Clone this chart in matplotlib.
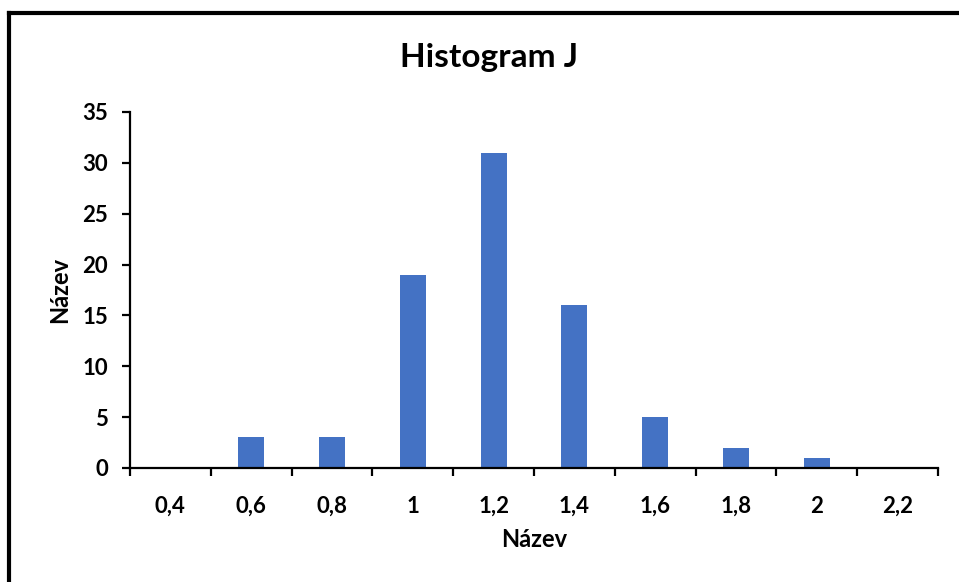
import numpy as np
import matplotlib
matplotlib.use("Agg")
import matplotlib.pyplot as plt
from matplotlib.lines import Line2D

plt.rcParams['font.family'] = ['Lato', 'DejaVu Sans']
plt.rcParams['font.weight'] = 'bold'

# data
categories = ['0,4', '0,6', '0,8', '1', '1,2', '1,4', '1,6', '1,8', '2', '2,2']
counts = [0, 3, 3, 19, 31, 16, 5, 2, 1, 0]
y_ticks = [0, 5, 10, 15, 20, 25, 30, 35]

fig = plt.figure(figsize=(9.59, 5.82), dpi=100)
ax = fig.add_axes([0.1356, 0.1959, 0.978 - 0.1356, 0.8076 - 0.1959])

x = np.arange(len(categories))
ax.bar(x, counts, width=0.32, color='#4472C4')

ax.set_xlim(-0.5, len(categories) - 0.5)
ax.set_ylim(0, 35)
ax.set_yticks(y_ticks)
ax.set_xticks(x)
ax.set_xticklabels(categories)
ax.set_xticks(np.arange(len(categories) + 1) - 0.5, minor=True)

for s in ['top', 'right']:
    ax.spines[s].set_visible(False)
for s in ['left', 'bottom']:
    ax.spines[s].set_linewidth(1.6)

ax.tick_params(axis='x', which='major', length=0, pad=20, labelsize=16)
ax.tick_params(axis='x', which='minor', length=6, width=1.6, direction='out')
ax.tick_params(axis='y', length=6, width=1.6, pad=10, labelsize=16)
for lab in ax.get_xticklabels() + ax.get_yticklabels():
    lab.set_fontweight('bold')

ax.set_xlabel('Název', fontsize=17, fontweight='bold', labelpad=8)
ax.set_ylabel('Název', fontsize=17, fontweight='bold', labelpad=8)
fig.text(0.51, 0.902, 'Histogram J', ha='center', va='center', fontsize=24, fontweight='bold')

# chart frame (only top and left visible in the crop)
fig.add_artist(Line2D([0.0099, 0.0099], [0, 0.9785], transform=fig.transFigure, color='black', lw=3))
fig.add_artist(Line2D([0.0099, 1.0], [0.9785, 0.9785], transform=fig.transFigure, color='black', lw=3))

fig.savefig('out.png', dpi=100)
